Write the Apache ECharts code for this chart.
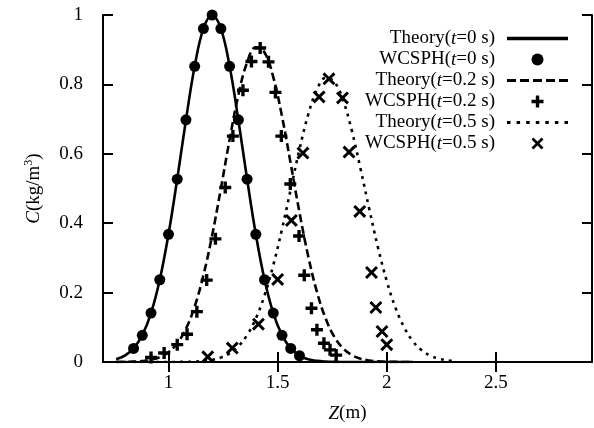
<!DOCTYPE html>
<html>
<head>
<meta charset="utf-8">
<script src="https://cdn.jsdelivr.net/npm/echarts@6/dist/echarts.min.js"></script>
<style>
html,body{margin:0;padding:0;background:#fff;}
#chart{width:594px;height:428px;}
</style>
</head>
<body>
<div id="chart"></div>
<script>
// ---- data ----
const xTicks = [1, 1.5, 2, 2.5];
const theoryZ = [0.76,0.80,0.84,0.88,0.92,0.96,1.00,1.04,1.08,1.12,1.16,1.20,1.24,1.28,1.32,1.36,1.40,1.44,1.48,1.52,1.56,1.60,1.64,1.68,1.72,1.76,1.80,1.84,1.88,1.92,1.96,2.00,2.04,2.08,2.12,2.16,2.20,2.24,2.28,2.32];
const theoryC0 = [0.0079,0.0183,0.0392,0.0773,0.1409,0.2369,0.3679,0.5273,0.6977,0.8521,0.9608,1,0.9608,0.8521,0.6977,0.5273,0.3679,0.2369,0.1409,0.0773,0.0392,0.0183,0.0079,0.0032,0.0012,0.0004,0.0001,0,0,0,0,0,0,0,0,null,null,null,null,null];
const theoryC02 = [0.0001,0.0004,0.0011,0.0027,0.0064,0.0139,0.0282,0.0537,0.0958,0.160,0.250,0.365,0.500,0.641,0.769,0.863,0.907,0.892,0.821,0.708,0.571,0.431,0.305,0.202,0.125,0.0723,0.0392,0.0199,0.0095,0.0042,0.0018,0.0007,0.0003,0.0001,0,null,null,null,null,null];
const theoryC05 = [0,0,0,0,0,0,0.0001,0.0002,0.0006,0.0013,0.0030,0.0065,0.0131,0.0249,0.0452,0.0774,0.125,0.192,0.279,0.383,0.498,0.613,0.713,0.785,0.819,0.807,0.754,0.666,0.556,0.440,0.329,0.233,0.156,0.0992,0.0595,0.0338,0.0182,0.0093,0.0045,0.0020];

const sphZ0 = [0.84,0.88,0.92,0.96,1.00,1.04,1.08,1.12,1.16,1.20,1.24,1.28,1.32,1.36,1.40,1.44,1.48,1.52,1.56,1.60];
const sphC0 = [0.039,0.077,0.141,0.237,0.368,0.527,0.698,0.852,0.961,1.0,0.961,0.852,0.698,0.527,0.368,0.237,0.141,0.077,0.039,0.018];

const sphZ02 = [0.92,0.98,1.04,1.085,1.13,1.175,1.215,1.26,1.295,1.341,1.38,1.42,1.458,1.49,1.517,1.558,1.598,1.622,1.655,1.68,1.712,1.74,1.768];
const sphC02 = [0.013,0.026,0.05,0.08,0.145,0.236,0.355,0.503,0.651,0.783,0.866,0.905,0.865,0.777,0.651,0.513,0.363,0.25,0.155,0.093,0.054,0.035,0.02];

const sphZ05 = [1.18,1.292,1.412,1.50,1.563,1.616,1.69,1.735,1.797,1.827,1.876,1.93,1.95,1.978,2.0];
const sphC05 = [0.015,0.04,0.109,0.238,0.408,0.602,0.764,0.816,0.761,0.605,0.434,0.258,0.157,0.088,0.05];

const names = ['Theory(t=0 s)','WCSPH(t=0 s)','Theory(t=0.2 s)','WCSPH(t=0.2 s)','Theory(t=0.5 s)','WCSPH(t=0.5 s)'];

// ---- build ----
const zip = (xs, ys) => xs.map((x, i) => [x, ys[i]]);
const FONT = 'Liberation Serif';
const PLUS = 'path://M3.6,0H6.4V3.6H10V6.4H6.4V10H3.6V6.4H0V3.6H3.6Z';
const CROSS = 'path://M1.6,0L5,3.4L8.4,0L10,1.6L6.6,5L10,8.4L8.4,10L5,6.6L1.6,10L0,8.4L3.4,5L0,1.6Z';
// legend line icons (61 x 3.4 strips)
const ICON_SOLID = 'path://M0,0H61V3.4H0Z';
const ICON_DASH = 'path://M0,0H9V3H0Z M13,0H22V3H13Z M26,0H35V3H26Z M39,0H48V3H39Z M52,0H61V3H52Z';
const ICON_DOT = 'path://M0,0H3.5V3H0Z M9.6,0H13.1V3H9.6Z M19.2,0H22.7V3H19.2Z M28.8,0H32.3V3H28.8Z M38.3,0H41.8V3H38.3Z M47.9,0H51.4V3H47.9Z M57.5,0H61V3H57.5Z';
const legendIcons = [ICON_SOLID, null, ICON_DASH, null, ICON_DOT, null];

const lineSeries = (name, ys, type) => ({
  name, type: 'line', data: zip(theoryZ, ys), showSymbol: false, symbol: 'none',
  smooth: 0.4, connectNulls: false, color: '#000',
  lineStyle: { color: '#000', width: 2.6, type: type }, z: 2
});
const scatterSeries = (name, xs, ys, symbol, size) => ({
  name, type: 'scatter', data: zip(xs, ys), symbol, symbolSize: size, color: '#000',
  itemStyle: { color: '#000', opacity: 1 }, z: 3
});

const chart = echarts.init(document.getElementById('chart'), null, { renderer: 'canvas' });
const axisCommon = {
  axisLine: { show: true, lineStyle: { color: '#000', width: 2 } },
  splitLine: { show: false }
};
chart.setOption({
  animation: false,
  backgroundColor: '#fff',
  grid: { left: 103, right: 2, top: 15, bottom: 64 },
  xAxis: [
    Object.assign({}, axisCommon, {
      type: 'value', min: 0.7, max: 2.94, position: 'bottom',
      name: '{i|Z}(m)', nameLocation: 'middle', nameGap: 42,
      nameTextStyle: { fontFamily: FONT, fontSize: 19, color: '#000',
        rich: { i: { fontFamily: FONT, fontSize: 19, fontStyle: 'italic', color: '#000' } } },
      axisTick: { inside: true, length: 10, lineStyle: { color: '#000', width: 2 }, customValues: xTicks },
      axisLabel: { customValues: xTicks, margin: 12, fontFamily: FONT, fontSize: 19, color: '#000' }
    }),
    Object.assign({}, axisCommon, {
      type: 'value', min: 0.7, max: 2.94, position: 'top',
      axisTick: { inside: true, length: 10, lineStyle: { color: '#000', width: 2 }, customValues: xTicks },
      axisLabel: { show: false }
    })
  ],
  yAxis: [
    Object.assign({}, axisCommon, {
      type: 'value', min: 0, max: 1, interval: 0.2, position: 'left',
      name: '{i|C}(kg/m{s|3})', nameLocation: 'middle', nameGap: 58,
      nameTextStyle: { fontFamily: FONT, fontSize: 19, color: '#000', lineHeight: 22,
        rich: {
          i: { fontFamily: FONT, fontSize: 19, fontStyle: 'italic', color: '#000', lineHeight: 22 },
          s: { fontFamily: FONT, fontSize: 12, color: '#000', verticalAlign: 'top', lineHeight: 12 }
        } },
      axisTick: { inside: true, length: 10, lineStyle: { color: '#000', width: 2 } },
      axisLabel: { margin: 20, fontFamily: FONT, fontSize: 19, color: '#000' }
    }),
    Object.assign({}, axisCommon, {
      type: 'value', min: 0, max: 1, interval: 0.2, position: 'right',
      axisTick: { inside: true, length: 10, lineStyle: { color: '#000', width: 2 } },
      axisLabel: { show: false }
    })
  ],
  legend: {
    orient: 'vertical', right: 26, top: 29, padding: 0, align: 'right',
    itemWidth: 61, itemHeight: 12, itemGap: 2,
    data: names.map((n, i) => (legendIcons[i] ? { name: n, icon: legendIcons[i] } : { name: n })),
    itemStyle: { opacity: 1 },
    textStyle: { fontFamily: FONT, fontSize: 19, color: '#000', lineHeight: 19,
      rich: {
        i: { fontFamily: FONT, fontSize: 19, fontStyle: 'italic', color: '#000' },
        p: { fontFamily: FONT, fontSize: 19, width: 7 }
      } },
    formatter: n => n.replace('(t=', '({i|t}=') + '{p| }'
  },
  series: [
    lineSeries(names[0], theoryC0, 'solid'),
    scatterSeries(names[1], sphZ0, sphC0, 'circle', 11),
    lineSeries(names[2], theoryC02, [8, 4]),
    scatterSeries(names[3], sphZ02, sphC02, PLUS, 12),
    lineSeries(names[4], theoryC05, [3, 5]),
    scatterSeries(names[5], sphZ05, sphC05, CROSS, 13)
  ]
});
</script>
</body>
</html>
